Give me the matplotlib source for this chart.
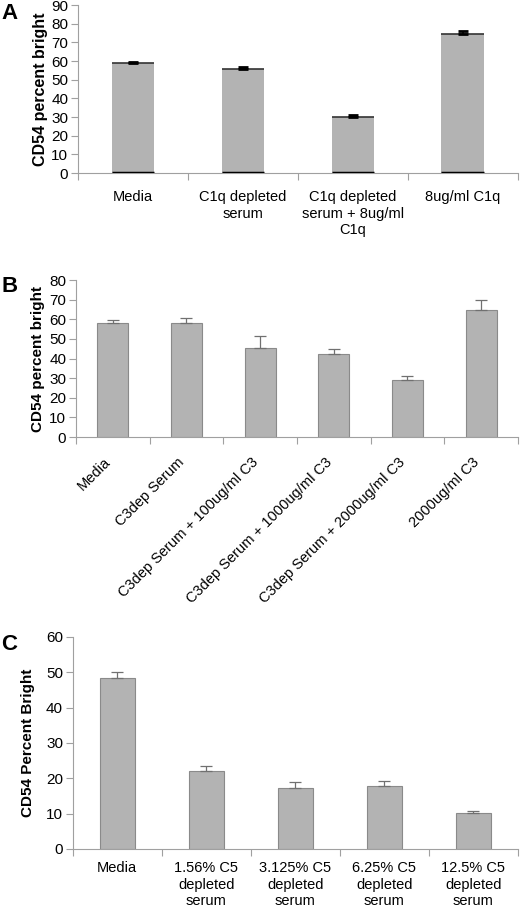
import numpy as np
import matplotlib.pyplot as plt
from matplotlib.transforms import ScaledTranslation

plt.rcParams['font.family'] = ['Liberation Sans', 'DejaVu Sans']

# Panel A
labels_a = ["Media", "C1q depleted\nserum", "C1q depleted\nserum + 8ug/ml\nC1q", "8ug/ml C1q"]
vals_a = [59.0, 56.0, 30.0, 74.5]
err_a = [0.6, 0.6, 1.3, 1.6]

# Panel B
labels_b = ["Media", "C3dep Serum", "C3dep Serum + 100ug/ml C3",
            "C3dep Serum + 1000ug/ml C3", "C3dep Serum + 2000ug/ml C3", "2000ug/ml C3"]
vals_b = [58.0, 58.3, 45.3, 42.2, 29.3, 64.5]
err_b = [1.6, 2.2, 6.0, 2.5, 1.9, 5.3]

# Panel C
labels_c = ["Media", "1.56% C5\ndepleted\nserum", "3.125% C5\ndepleted\nserum",
            "6.25% C5\ndepleted\nserum", "12.5% C5\ndepleted\nserum"]
vals_c = [48.3, 22.0, 17.2, 17.8, 10.1]
err_c = [1.7, 1.6, 1.8, 1.5, 0.6]

bar_color = "#b3b3b3"
axis_color = "#a0a0a0"

fig = plt.figure(figsize=(5.2, 9.11), dpi=100)


def style_axes(ax, n, ymax, step):
    ax.set_xlim(0, n)
    ax.set_ylim(0, ymax)
    ax.set_yticks(np.arange(0, ymax + 1, step))
    for s in ["top", "right"]:
        ax.spines[s].set_visible(False)
    for s in ["left", "bottom"]:
        ax.spines[s].set_color(axis_color)
        ax.spines[s].set_linewidth(0.8)
    ax.set_xticks(np.arange(0, n + 1), minor=False)
    ax.tick_params(axis="x", which="major", length=5, color=axis_color, labelbottom=False)
    ax.set_xticks(np.arange(n) + 0.5, minor=True)
    ax.tick_params(axis="x", which="minor", length=0, labelsize=10.5)
    ax.tick_params(axis="y", length=5, color=axis_color, labelsize=11, pad=2)


# ---- A ----
ax1 = fig.add_axes([0.150, 0.810, 0.846, 0.1845])
xa = np.arange(len(vals_a)) + 0.5
ax1.bar(xa, vals_a, width=0.39, color=bar_color, edgecolor="none", zorder=2)
ax1.hlines(vals_a, xa - 0.195, xa + 0.195, color="#333333", lw=1.2, zorder=3)
ax1.hlines(np.zeros(len(vals_a)), xa - 0.195, xa + 0.195, color="black", lw=2.5, zorder=3)
ax1.errorbar(xa, vals_a, yerr=[np.zeros(len(err_a)), err_a], fmt="none",
             ecolor="black", elinewidth=1.2, capsize=3.5, capthick=2, zorder=4)
style_axes(ax1, len(vals_a), 90, 10)
ax1.set_xticklabels(labels_a, minor=True, linespacing=1.25)
ax1.tick_params(axis="x", which="minor", pad=12)
ax1.set_ylabel("CD54 percent bright", fontweight="bold", fontsize=11.5, labelpad=2)
fig.text(0.002, 0.985, "A", fontsize=16, fontweight="bold", va="center")

# ---- B ----
ax2 = fig.add_axes([0.146, 0.5203, 0.850, 0.1723])
xb = np.arange(len(vals_b)) + 0.5
ax2.bar(xb, vals_b, width=0.42, color=bar_color, edgecolor="#8a8a8a", lw=0.8, zorder=2)
ax2.errorbar(xb, vals_b, yerr=[np.zeros(len(err_b)), err_b], fmt="none",
             ecolor="#707070", elinewidth=0.9, capsize=4, capthick=0.9, zorder=3)
style_axes(ax2, len(vals_b), 80, 10)
ax2.set_xticklabels(labels_b, minor=True, rotation=45, ha="right", rotation_mode="anchor")
ax2.tick_params(axis="x", which="minor", pad=13)
shift = ScaledTranslation(-9 / 100, 0, fig.dpi_scale_trans)
for lab in ax2.get_xticklabels(minor=True):
    lab.set_transform(lab.get_transform() + shift)
ax2.set_ylabel("CD54 percent bright", fontweight="bold", fontsize=11, labelpad=3)
fig.text(0.002, 0.685, "B", fontsize=16, fontweight="bold", va="center")

# ---- C ----
ax3 = fig.add_axes([0.140, 0.0681, 0.856, 0.2327])
xc = np.arange(len(vals_c)) + 0.5
ax3.bar(xc, vals_c, width=0.40, color=bar_color, edgecolor="#8a8a8a", lw=0.8, zorder=2)
ax3.errorbar(xc, vals_c, yerr=[np.zeros(len(err_c)), err_c], fmt="none",
             ecolor="#707070", elinewidth=0.9, capsize=4, capthick=0.9, zorder=3)
style_axes(ax3, len(vals_c), 60, 10)
ax3.set_xticklabels(labels_c, minor=True, linespacing=1.2)
ax3.tick_params(axis="x", which="minor", pad=9)
ax3.set_ylabel("CD54 Percent Bright", fontweight="bold", fontsize=11, labelpad=8)
fig.text(0.002, 0.293, "C", fontsize=16, fontweight="bold", va="center")

fig.savefig("out.png", dpi=100)
